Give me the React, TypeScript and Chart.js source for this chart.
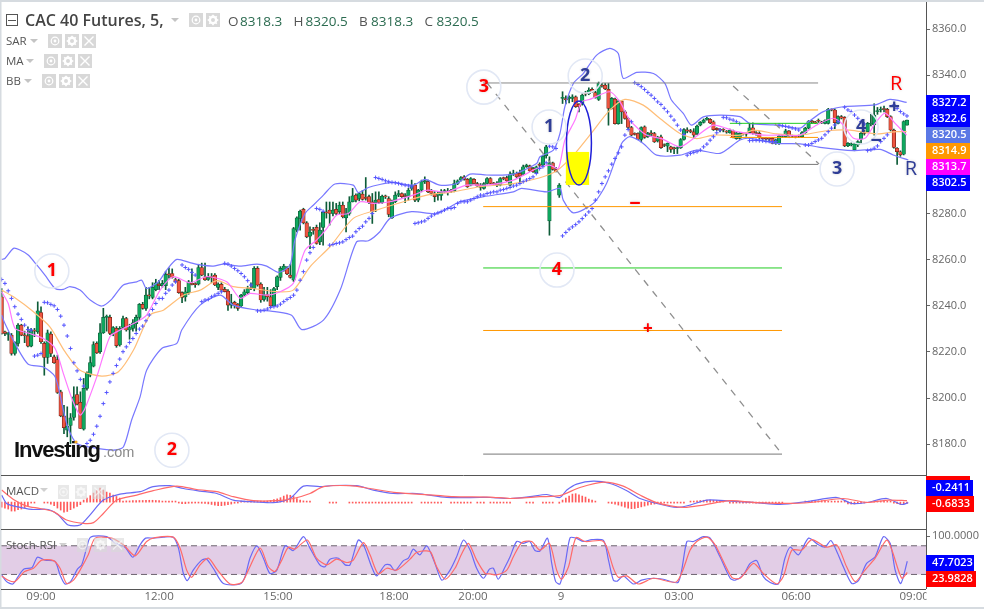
import React, { useEffect, useRef } from "react";
import { Chart, registerables } from "chart.js";

Chart.register(...registerables);

const opens = [
  8243.9,8228.7,8227.6,8227.3,8219.3,8223.7,8231.6,8227.3,8227,8222.5,
  8229.2,8228.7,8237.1,8223.7,8217.6,8227.7,8217.9,8216.7,8202.7,8192.2,
  8186.1,8188.1,8191.6,8201.5,8198.1,8186.5,8204.2,8209.9,8213.8,8223.7,
  8220.1,8228.3,8235,8235,8228,8230.2,8223,8230.6,8234.5,8229.5,
  8230.2,8232.3,8235,8240.6,8238.9,8244.6,8243.6,8247,8249.4,8248.7,
  8248.7,8253.6,8254,8251.4,8250.9,8245.7,8243.9,8245.7,8249.7,8249.4,
  8249.4,8256.6,8252.6,8251.4,8252.3,8253.3,8248,8249.3,8247.1,8246.4,
  8240.3,8241.5,8240.7,8239.9,8244.6,8245.7,8247.5,8247.5,8256.2,8249.4,
  8242.8,8244.9,8243.9,8240,8248.3,8252.3,8255.5,8256.2,8253.3,8251.1,
  8272.8,8277.9,8281.8,8276,8270.2,8272.8,8274,8267.7,8274,8280.5,
  8281.5,8280,8281.8,8280.8,8283.6,8278.1,8280,8285.1,8288,8286.5,
  8288.4,8286.8,8287.3,8285.1,8284.7,8286.1,8284.7,8287.3,8286.5,8278.1,
  8285.1,8288,8288.7,8287.5,8287.3,8290.9,8292.3,8285.8,8290.1,8293.8,
  8293.8,8290.1,8288.7,8288,8287.8,8289.4,8289.4,8289.9,8289.9,8293,
  8294.5,8295.9,8294.8,8292.3,8294.8,8293,8292.3,8290.9,8293,8295.2,
  8293,8293,8292.3,8295.2,8295.6,8292.3,8297.1,8297.4,8297.4,8297.1,
  8300.3,8300.7,8299.5,8297.7,8301,8301,8305.1,8276.8,8302,8299.1,
  8288,8329.9,8329.5,8329.9,8329.9,8330.6,8327.3,8327.7,8331.8,8332,
  8333.8,8332.4,8329.5,8335.4,8335.7,8333.8,8325.6,8329.6,8319,8328.7,
  8324.1,8321.2,8317.3,8314.4,8314.7,8312.1,8317.6,8313.3,8314.7,8314.7,
  8311.5,8313.3,8309.6,8309.2,8308.9,8308.2,8308.2,8308.6,8312.1,8315.9,
  8315.6,8315.4,8314.7,8318.3,8319.5,8320.8,8320.8,8319.8,8316.9,8316.2,
  8316.2,8315.4,8315,8315.9,8312.5,8312.6,8314.8,8314.5,8315.1,8317.2,
  8314.8,8314.8,8312.6,8312.3,8312.3,8312.6,8310.4,8310.4,8313.4,8313.3,
  8315.8,8313.6,8313.3,8313.6,8313.3,8315.1,8317,8319.9,8319.4,8320.1,
  8319.4,8319.1,8319.1,8324.9,8324.9,8319.1,8322,8321.7,8309.3,8309.7,
  8307.6,8309.7,8312.2,8314.8,8315.5,8318.8,8318.4,8324.2,8324.9,8325.2,
  8325.2,8322,8316.2,8308.3,8306.8,8305.7,8318.3,
];
const highs = [
  8247.5,8229,8228.5,8228,8224.4,8232.3,8232,8229,8230.9,8230.2,
  8230.2,8241.7,8239.6,8224.4,8229.5,8228.7,8218.6,8218.6,8203.4,8196.9,
  8196.2,8193.3,8204.9,8204.9,8202.7,8208.5,8211.4,8217.9,8224.4,8224.4,
  8232.3,8238.9,8236,8236,8231,8231,8231,8235.5,8235,8232,
  8234,8236,8241,8241.5,8248,8248,8250,8251.5,8251,8251,
  8255,8256.5,8256,8252,8251.5,8246,8248,8251,8256,8250,
  8258,8258.5,8258.5,8254,8254,8254,8250,8250,8248,8247,
  8245,8242,8241,8245,8247,8248.5,8250,8257,8257,8250,
  8248,8248,8247,8248,8253,8257,8258,8257,8258,8274,
  8278.6,8281.5,8282.3,8276.5,8274.2,8274,8275,8276,8280.7,8285,
  8285,8285,8284.4,8285,8285,8282.2,8287.3,8290.9,8288.5,8289,
  8290,8295.6,8288,8288.7,8289.4,8289.4,8288,8288,8287.3,8285.8,
  8289.4,8290,8289,8288.7,8290.9,8294.5,8293,8290.5,8294.5,8295.9,
  8294.5,8290.5,8289.5,8289.4,8290.4,8290.5,8290.9,8290.5,8294.5,8294.6,
  8296,8296.5,8295.2,8295.6,8295.2,8293.5,8293,8293.4,8295.6,8295.6,
  8293.5,8293.8,8295.6,8295.8,8296.2,8298.1,8298.8,8298,8298.8,8301,
  8301.4,8301,8300,8300.6,8302,8305.3,8309.6,8304.6,8302.3,8300,
  8293,8332.8,8331,8331,8331.5,8331,8327.7,8332,8333,8334.5,
  8334.5,8333,8337,8336.4,8336.4,8336.4,8330.3,8330,8329.2,8329,
  8324.6,8321.6,8317.8,8315,8315,8317.6,8318,8315.2,8316,8315.2,
  8313.5,8314,8310.2,8310.6,8309.2,8308.8,8309,8312.5,8316.8,8317.2,
  8316.5,8316.8,8318.3,8319.9,8321,8321.8,8321.2,8320.2,8317.2,8316.8,
  8316.8,8316,8316.6,8316.2,8315.4,8315.2,8315.2,8315,8319,8319.3,
  8315.5,8315.5,8313,8313,8312.8,8313,8312.3,8314,8314,8316.5,
  8316,8314,8313.8,8314,8315.5,8317.4,8320.3,8320.4,8320,8321,
  8320,8320.6,8325.6,8325.4,8325.4,8322.4,8322.5,8322,8310.8,8310.6,
  8310.6,8311.6,8315.2,8316,8319.5,8323,8327.6,8326,8326.2,8326.6,
  8325.6,8322.4,8316.6,8308.6,8307.2,8320.2,8320.5,
];
const lows = [
  8227.7,8227,8225,8218.6,8218.6,8222.5,8227,8224,8222.2,8222.2,
  8226.6,8228,8223.7,8209.9,8215,8217.9,8215,8202,8191.9,8184.6,
  8183.2,8180.3,8190.4,8197,8186.8,8186.1,8203.4,8209.2,8213.5,8219.3,
  8219.3,8228,8229,8227.5,8227,8222,8222.5,8230,8229,8225.5,
  8229,8229,8234,8238.5,8238,8243,8243,8246.5,8247,8248,
  8247,8252,8252,8250,8245.4,8241.4,8242,8245,8249,8248,
  8249,8253,8251,8251,8250,8248.7,8247,8246,8246,8238,
  8239,8239,8238,8239.5,8244,8245,8247,8246.5,8248.5,8241.5,
  8242,8242,8239.5,8240,8247,8251,8255,8253.5,8252,8250.5,
  8272,8272.8,8275.5,8269.5,8264.8,8271,8266.7,8266.5,8266.3,8278,
  8275,8279,8279.5,8280,8278.1,8272,8279.3,8285,8285,8285.5,
  8285.8,8285.8,8284.3,8275.7,8280.8,8284.4,8284.4,8286.5,8278.6,8277.9,
  8284.7,8287.3,8287,8284.7,8285.8,8290.1,8285.1,8285.1,8289.4,8293,
  8289,8288,8285.1,8285.8,8285.8,8289,8288,8289,8289.4,8292.5,
  8294,8294.5,8291.3,8292,8292.7,8291.7,8290.1,8290.6,8292.7,8292.7,
  8292.4,8291.6,8292,8294.6,8293.8,8292,8296.5,8295.6,8293.8,8296.7,
  8300,8298.2,8297.8,8297.4,8300,8300.7,8304,8270.6,8298.8,8298,
  8287,8327.7,8327.5,8328,8328.5,8326,8324.1,8327,8331,8331.5,
  8332.5,8330,8329,8334.8,8333.7,8318.3,8325.3,8318.7,8318.7,8319,
  8320.9,8316.8,8313.7,8314,8312,8311,8312.6,8313,8313.8,8310.8,
  8311,8308.2,8309,8306.8,8306.5,8306,8306,8308.2,8311.8,8315,
  8315,8312.5,8314.2,8318,8319.2,8320.5,8319,8316,8316,8315.4,
  8315.4,8314.8,8314.8,8312.8,8312.2,8312.2,8314,8313.5,8314.8,8314.4,
  8314,8312.5,8312,8311.8,8311.5,8310.2,8310,8310,8313,8313,
  8313.2,8313,8312.8,8313,8313,8314.8,8316.7,8319,8319,8319.5,
  8319,8318.8,8318.8,8324.5,8316.8,8318.8,8321,8309,8309,8309.3,
  8307.2,8309,8310.5,8314,8315,8318,8314,8323,8324,8324,
  8321.6,8315.8,8308.3,8301.3,8304.8,8305.4,8318.3,
];
const closes = [
  8228,8228,8227.9,8219.3,8224,8231.6,8227.3,8227,8222.5,8229.2,
  8229,8237.8,8224.4,8217.6,8228.3,8219.3,8215.3,8202.4,8192.3,8187.2,
  8187.8,8191.4,8200.5,8197.4,8186.8,8204.2,8210.7,8215.4,8223.2,8219.6,
  8228.3,8235,8235.2,8228,8230.6,8222.7,8230.2,8234.5,8229.5,8230.6,
  8232.6,8235,8240.6,8238.9,8244.6,8244.3,8248,8250,8248.7,8249.7,
  8253.6,8253.4,8252.3,8250.4,8245.7,8243.6,8246.1,8250.4,8249.3,8249.2,
  8256.6,8253.3,8251.2,8252.3,8252.2,8249,8249.4,8246.8,8246.1,8240.3,
  8241.3,8240,8238.9,8244.6,8246.1,8247.5,8247.4,8256.2,8249,8242.5,
  8244.6,8243.9,8240,8247.5,8252.6,8256.2,8257.2,8253.8,8252.3,8273.5,
  8278.1,8281,8276,8269.9,8271.9,8272.7,8267,8272.8,8280.5,8280.3,
  8280,8281.5,8280,8283.6,8278.6,8280,8285.1,8287.7,8285.8,8288.7,
  8286.1,8286.6,8284.7,8280.8,8285.8,8284.8,8287.5,8287.2,8279.6,8285.1,
  8288,8288.7,8287.3,8287.4,8290.1,8292.3,8285.8,8290.1,8293.8,8294,
  8289.4,8288.7,8287.3,8288.1,8289.4,8289.9,8289.3,8289.6,8293,8294.2,
  8295.6,8294.8,8291.6,8295.2,8293,8292,8291.3,8293,8295.2,8293,
  8292.9,8292.3,8295.2,8295.1,8294.2,8297.1,8297.2,8295.9,8296.2,8300.3,
  8301,8298.5,8298.1,8300.3,8300.9,8304.9,8308.9,8302,8299.1,8298.1,
  8292.3,8330,8329.4,8330.2,8330.6,8326.3,8326.4,8331.3,8331.7,8333.5,
  8332.8,8330.3,8336.4,8335.3,8334,8325.6,8329.9,8319,8328.7,8324.1,
  8321.2,8317.3,8314,8314.3,8312.2,8317.3,8313,8314.7,8314.6,8311.1,
  8313,8308.6,8309.5,8310.4,8307.8,8308.1,8308.6,8312.1,8316.4,8315.8,
  8315.5,8314,8317.9,8319.5,8320.5,8321.2,8319.3,8316.4,8316.4,8316.1,
  8316.1,8315.3,8316.2,8313,8315,8314.8,8314.5,8314.4,8317.2,8314.8,
  8314.7,8312.9,8312.5,8312.2,8312.2,8310.4,8311.9,8313.6,8313.5,8315.8,
  8313.6,8313.5,8313.2,8313.5,8315.1,8317,8319.9,8319.8,8319.3,8320,
  8319.3,8320.3,8325.2,8324.8,8319.4,8322,8321.3,8309.3,8310.4,8310.2,
  8310.2,8311.2,8314.8,8314.7,8319.1,8319.1,8322.7,8324.3,8325,8325.1,
  8322,8316.2,8308.7,8306.8,8305.4,8319.9,8320.5,
];

const bbUpper: [number, number][] = [
  [0,8260.1],[1,8260.5],[3.6,8264.9],[5.6,8264.2],[8.1,8262],[10.7,8257.7],[13.2,8253.3],[16.3,8247.5],[18.8,8247.1],[20.8,8248.3],
  [23.9,8246.8],[27,8242.5],[30.5,8239.9],[33.5,8242.8],[37.1,8249],[41.2,8250.4],[42.7,8251.1],[44.2,8247.5],[47.8,8250.4],[50.3,8255.5],
  [53.4,8260.1],[57.4,8258.7],[60.5,8257.7],[64.5,8257.2],[67.6,8258.1],[72.7,8257.2],[77.8,8258.1],[80.8,8257.2],[84.4,8254.5],[87.9,8257.7],
  [89.4,8268.5],[92.5,8280],[95,8283.6],[98.1,8288],[101.6,8292.8],[107.2,8292.3],[108.7,8289.1],[111.8,8291.3],[115.3,8292.6],[119.4,8293.5],
  [125.5,8292.3],[129.1,8294.8],[133.6,8292.3],[138.7,8293],[142.8,8297.1],[147.9,8296.7],[156,8297.1],[163.1,8301.7],[164.1,8304.6],[168.2,8307.5],
  [170.2,8314.7],[171.7,8326.3],[174.3,8336.4],[177.3,8340.7],[181.4,8348.7],[185.4,8351.6],[188,8349.4],[189.5,8338.6],[193.6,8341.2],[198.7,8340.7],
  [202.2,8336.4],[204.2,8329.2],[207.8,8323.4],[210.3,8318.3],[213.9,8321.9],[219,8322.7],[225.1,8322],[228.1,8319.1],[235.3,8318.4],[243.4,8317],
  [245.4,8319.1],[250.5,8324.2],[257.1,8326.4],[266.3,8327.1],[270.8,8329.5],[275.9,8328.2],
];
const bbLower: [number, number][] = [
  [0,8236],[1,8232.3],[4.6,8222.2],[8.1,8214.7],[12.7,8213.5],[16.3,8209.2],[18.8,8194.8],[20.3,8186.8],[22.9,8180.3],[27.4,8178.6],
  [34,8177.4],[37.1,8178.8],[39.6,8190.4],[42.2,8200.5],[44.2,8212.1],[48.8,8221.5],[53.4,8223.7],[54.9,8229.5],[60.5,8240.3],[66.6,8244.6],
  [70.6,8240.3],[76.7,8238.4],[83.9,8237.4],[88.4,8235.9],[91.5,8229.7],[98.1,8233.8],[103.2,8246.8],[108.2,8267.7],[111.8,8268.2],[115.3,8272.1],
  [118.4,8277.9],[125,8280.8],[132.6,8280],[139.7,8285.1],[146.9,8287.3],[156,8289.4],[158.5,8290.9],[166.2,8289.4],[170.2,8290.9],[171.2,8285.8],
  [174.3,8280.3],[180.4,8284.4],[184.4,8293],[189,8310.4],[191.5,8313.3],[195.6,8310.4],[199.7,8305.3],[206.8,8305.3],[211.9,8307.5],[219,8306.1],
  [225.1,8311.9],[228.1,8312.6],[236.3,8310.4],[243.4,8310.2],[249.5,8308.7],[259.7,8307.3],[267.8,8307.8],[271.8,8305.4],[276.4,8303.2],
];
const maFast: [number, number][] = [
  [0,8246.1],[2,8241],[4.1,8230.2],[8.6,8228],[12.7,8225.8],[16.3,8221.5],[18.8,8210.7],[21.4,8199.8],[23.9,8192.6],[25.4,8195.5],
  [29,8209.2],[33,8226.6],[36.1,8229.5],[40.2,8232.3],[44.2,8236],[48.3,8246.8],[52.3,8252.6],[57.4,8250],[62.5,8252.6],[68.6,8250.4],
  [72.7,8243.2],[75.7,8245.4],[80.8,8244.6],[84.9,8246.1],[88.9,8249.7],[92.5,8264.1],[96,8268.5],[99.1,8273.5],[102.1,8279.3],[105.7,8280],
  [109.3,8285.1],[113.3,8284.4],[118.4,8285.1],[125.5,8288],[129.6,8290.1],[135.7,8289.4],[141.8,8292.3],[147.9,8292.3],[156,8294.5],[163.1,8299.5],
  [167.1,8301],[169.7,8299.5],[171.7,8311.8],[174.8,8320.5],[176.8,8328.4],[179.3,8329.5],[185.4,8332.8],[188.5,8328.4],[191.5,8320.5],[196.6,8314],
  [201.2,8312.5],[206.8,8308.9],[210.9,8312.5],[216.9,8318.3],[221,8316.9],[224.1,8315.5],[232.2,8314],[237.3,8314],[243.4,8314],[248.5,8318.4],
  [253.6,8321.3],[256.6,8318.4],[259.7,8312.6],[263.2,8312.6],[266.3,8319.1],[269.3,8323.5],[272.4,8319.1],[275.9,8314],
];
const maSlow: [number, number][] = [
  [0,8246.8],[3.6,8243.9],[9.7,8237.4],[14.7,8230.9],[19.3,8220.1],[23.9,8212.1],[30.5,8209.5],[35.6,8211.4],[40.2,8220.8],[45.2,8236],
  [49.3,8238.1],[55.4,8244.6],[60.5,8246.8],[65.6,8250.9],[70.6,8248.3],[76.7,8247.5],[83.9,8246.1],[88.9,8246.8],[94,8256.9],[100.1,8265.6],
  [107.2,8277.9],[114.3,8281.5],[122.5,8285.1],[129.6,8288],[137.7,8289.4],[145.8,8291.6],[156,8293],[164.1,8295.5],[169.2,8298.5],[174.3,8305.3],
  [179.3,8314],[185.4,8324.8],[190,8329.5],[195.6,8327],[200.7,8321.2],[206.8,8314.7],[211.9,8312.5],[216.9,8314],[225.1,8314],[229.2,8316.2],
  [236.3,8314.5],[243.4,8314],[251.5,8315.9],[258.6,8316.2],[266.8,8314.5],[272.9,8315.5],[275.9,8315.5],
];

const sarRuns: [number, number[]][] = [
  [0,[8251.4,8249.7,8246.5,8243.2,8239.6,8236.4,8234.1,8231.6,8229.7,8229.5]],
  [10,[8218.2,8218.6,8219.3]],
  [13,[8241.5,8241.3,8240.6,8240,8238.4,8235.5,8231.6,8226.9,8221.5,8215.3,8211.8,8208.1,8205.2]],
  [26,[8180.3,8181.7,8184.3,8187.8,8192.1,8197.6,8202.4,8207,8210.7,8214.1,8216.9,8220.1,8222.2,8224.1,8225.8,8228,8229.9,8231.2,8233.5,8236,8238.4,8241,8243.2,8243.2,8245.4,8246.8,8249,8250.4]],
  [55,[8257.7,8256.6,8255.8,8254.5,8253.3]],
  [61,[8241.8,8242.5,8242.8,8243.9,8244.6,8245.4,8246.1]],
  [68,[8258.4,8258.1,8257.2,8256.2,8255.2,8254,8252.6,8250.9,8249]],
  [78,[8237.8,8237.8,8238.1,8238.6,8239.3,8239.6,8239.9,8240.7,8241.8,8242.8,8243.6,8244.6,8246.8,8251.1,8254.8,8259.8,8263,8265.3]],
  [96,[8282.2,8281.8,8281]],
  [100,[8266.3,8266.6,8267,8267.3,8267.7,8268.7,8269.6,8270.2,8272.1,8273.5,8274.5,8276.4,8277.9,8280]],
  [114,[8295.6,8295.2,8294.8,8294.2,8293.8,8293.5,8293.3,8293,8292.6,8292.3,8292,8291.6]],
  [126,[8275.7,8276,8276.4,8276.8,8277.9,8278.9,8279.7,8280.3,8280.8,8281.5,8282.2,8282.2,8282.6,8284.4,8285.1,8285.1,8285.1,8285.8,8286.5,8287.3,8288,8288,8288.7,8289,8289.4,8289.4,8290.1,8290.4,8290.9,8291.3,8291.9,8292.3,8293,8293.8,8294.5,8295.2,8295.9,8297.4,8299.5,8300.3,8302]],
  [167,[8309.2,8308.9,8308.2]],
  [171,[8270.3,8271.8,8273.2,8274.2,8275.2,8276.4,8277.8,8279.3,8280.7,8282.2,8285.8,8289.4,8293,8295.9,8298.5,8301.4,8303.9,8306.3,8308.9,8314,8316.4,8319.8]],
  [193,[8336.7,8336,8335,8333.8,8332.5,8331.3,8329.9,8328.4,8327.3,8325.6,8324.1,8322.2,8320.5,8318.3,8316.2,8314.3]],
  [209,[8305.3,8306,8306.5,8306.8,8307.5,8308.9,8310.1,8311.8,8313.3,8315,8316.2]],
  [220,[8321.7,8321.5,8320.9,8320.5,8319.8,8319]],
  [228,[8311.6,8311.7,8311.7,8311.6,8311.5,8311.3,8311.3,8311.2,8311.2]],
  [237,[8318.4,8318.1,8317.8,8317.5,8317.1,8316.7,8316.2]],
  [245,[8309.7,8309.7,8310.4,8311.2,8311.9,8312.6,8314.1,8315.5,8317,8318.4,8319.8]],
  [257,[8326.1,8324.9,8324.2,8322.7,8321.3,8319.8,8318.8]],
  [264,[8307.3,8307.6,8308.3,8309.3,8311.2,8312.6,8314.1]],
  [272,[8327.1,8325.6,8324.2,8323.2,8322.3]],
];

const macdLine: [number, number][] = [
  [0,3.5],[1.5,-0.7],[4.6,-2.3],[9.2,-3.7],[14.2,-3.7],[17.3,-6.5],[20.3,-11.5],[23.9,-11.5],[26.9,-6.5],[31,1],
  [36.1,4],[42.2,5.2],[46.2,7.7],[51.3,8.2],[55.4,6.8],[60.5,5.5],[65.6,4.3],[70.6,1],[75.7,0.2],[82.8,-0.3],
  [87.9,1.8],[92,8],[97,7.7],[101.1,8.3],[108.2,8.2],[113.3,6],[119.4,4.3],[126.5,4.3],[135.7,2.3],[145.8,2.3],
  [148.9,2.3],[155,1.8],[161.1,2.7],[166.2,3.8],[170.2,2.3],[172.3,6],[175.3,9],[180.4,10.5],[185.5,9.3],[190.6,5.7],
  [194.6,1.8],[199.7,-0.7],[205.8,-2.7],[209.9,-1.5],[215,1],[222.1,0.5],[230.2,-0.3],[237.3,-1.2],[245.4,0.2],[254.6,2.3],
  [259.2,-0.7],[263.8,-0.2],[269.8,1.8],[274.4,-1.2],[276.4,-0.3],
];
const macdSignal: [number, number][] = [
  [0,6],[3.6,1.3],[7.6,-2],[11.7,-3.2],[15.8,-4.8],[19.8,-9],[24.9,-10.7],[28,-10.3],[31,-5.7],[35.1,1],
  [41.2,3.5],[46.2,5.7],[53.4,8],[59.5,6.3],[65.6,5.2],[70.6,2.7],[76.7,0.7],[83.9,0.7],[88.9,1.8],[94,4.3],
  [98.1,7.7],[106.2,8.2],[112.3,6.8],[120.4,4.7],[131.6,3.5],[137.7,2.7],[148.9,2.5],[155,1.8],[164.1,2.7],[170.2,3.2],
  [176.3,7.3],[183.5,10],[189.5,8],[194.6,3.5],[199.7,-0.3],[207.8,-2.7],[213.9,-1.5],[222.1,0.7],[230.2,-0.3],[238.3,-0.7],
  [246.5,-0.2],[256.6,1.8],[263.8,-0.2],[270.3,1],[276,0.7],
];
const macdHist: (number | null)[] = [
  -2.5,-3,-3.5,-4.5,-4.5,-3.8,-3.5,-3,-1.8,-0.5,
  -0.5,null,null,-0.1,-0.1,-1,-1.8,-3,-4,-5,
  -4.7,-3.8,-3,-2.2,-1.3,1,2,3.2,4.5,5.8,
  7,6,5,4.5,3.5,2.8,2,0.5,0.6,0.6,
  0.7,0.7,0.8,0.8,0.9,0.9,0.9,0.8,0.7,0.5,
  0.4,0.3,0.2,0.2,-0.4,-0.8,-0.8,-0.6,-0.5,-0.5,
  -0.4,-0.6,-0.7,-0.9,-1.2,-1.5,-1.8,-1.8,-1.6,-1.3,
  -1,-0.6,-0.3,0.2,0.3,0.3,0.2,0.2,0.1,0.2,
  0.3,0.5,0.8,1.2,1.6,2.2,3,3.6,3.4,2.8,
  1.8,1,0.6,0.4,0.2,null,null,null,null,null,
  -0.1,-0.1,-0.1,null,null,null,-0.2,-0.2,-0.3,-0.3,
  -0.3,-0.3,-0.4,-0.4,-0.5,-0.5,-0.5,-0.6,-0.5,-0.5,
  -0.5,-0.4,-0.4,-0.3,-0.3,-0.3,null,null,-0.3,-0.3,
  -0.4,-0.4,-0.4,-0.3,-0.3,null,null,-0.2,-0.2,-0.2,
  -0.3,-0.3,-0.3,-0.2,null,-0.2,-0.2,-0.2,null,-0.2,
  -0.2,-0.2,-0.3,-0.2,-0.2,-0.2,null,null,null,null,
  -0.2,-0.2,-0.2,null,null,-0.2,-0.2,-0.2,-0.2,null,
  -0.6,1,2,3,4,4.2,3.6,3,2.5,1.5,
  1,0.5,null,null,null,-0.5,-0.7,-1,-1.5,-2,
  -2.6,-3,-3.3,-3.2,-2.8,-2.4,-2,-1.5,-1.2,-1,
  -0.8,-0.6,-0.5,-0.5,-0.4,-0.3,-0.3,-0.2,-0.2,null,
  0.4,0.5,0.6,0.8,0.9,1,1,0.9,0.7,0.5,
  0.4,null,-0.2,-0.2,-0.2,-0.2,-0.2,-0.2,-0.2,-0.2,
  -0.2,-0.2,-0.2,-0.2,-0.2,-0.2,-0.2,-0.2,-0.2,null,
  null,null,null,null,null,0.3,0.4,0.5,0.6,0.6,
  0.7,0.6,0.5,0.4,0.3,0.2,0.1,0.1,-0.9,-1,
  -1,-0.8,-0.5,-0.3,null,null,0.3,0.4,0.5,0.6,
  0.5,0.3,-0.4,-0.8,-1.2,-0.9,-0.7,
];

const stochK: [number, number][] = [
  [0,19],[1.5,5],[3.4,0],[5,15.5],[6.8,31.5],[9.2,34],[10.9,56],[13.2,50],[16.3,47],[17.8,19],
  [19.3,0],[21,5],[23.1,31],[24.4,40],[25.9,75],[27.1,98],[32,99],[35,84],[37.6,77],[40,56],
  [42.2,82],[43.9,96],[46.2,96],[49.3,98],[52.3,98],[53.9,75],[55.4,22],[56.6,7],[58.4,29],[61,50],
  [62.5,52],[64.5,33],[67.6,1],[72.7,0],[74.2,15.5],[75.7,54],[77.8,80],[79.8,54],[81.8,22],[83.9,29],
  [86.4,80],[88.9,70],[92,99],[94,75],[97,40],[98.6,36],[100.1,52],[102.7,54],[104.7,40],[106.2,40],
  [108.7,92],[110.3,82],[112.8,36],[114.3,17],[116.9,40],[118.4,40],[119.9,28],[122.5,49],[124,54],[125.5,73],
  [127.5,61],[129.6,80],[132.1,43],[134.2,8],[136.7,29],[138.7,57],[140.8,92],[142.8,71],[144.8,33],[146.9,12],
  [148.7,31],[149.9,33],[151.4,10],[153.5,36],[155,57],[157,89],[159,85],[161,89],[162.6,70],[164.1,69],
  [166.4,96],[167.7,43],[168.9,5],[170.2,0],[171.8,43],[173.3,97],[175.1,96],[177.4,89],[179.9,93],[183.5,91],
  [185,50],[186.5,8],[187.7,6],[189.5,17],[192.6,0],[195.1,8],[198.7,12],[201.7,10],[206.3,4],[208.9,89],
  [210.9,89],[213.9,99],[216,96],[219,57],[222.1,12],[223.6,8],[226.1,19],[228.2,43],[230.2,49],[232.2,15.5],
  [234.3,3],[236.8,0],[238.8,54],[240.4,77],[242.9,61],[246,96],[249,82],[251,77],[252.8,91],[254.6,68],
  [256.6,36],[259.2,1],[261.2,7],[263.7,43],[266.3,57],[268.8,99],[270.9,85],[272.4,29],[274.1,1],[276.1,47.7],
];
const stochD: [number, number][] = [
  [0,17],[2,8],[4,5],[7,26],[9.7,33],[12.2,50],[15.8,49],[17.8,33],[19.8,1],[21.9,8],
  [23.9,29],[26.4,61],[28.5,96],[33.5,96],[37.1,82],[40.7,59],[44.2,89],[46.8,97],[52.3,98],[54.4,75],
  [56.4,29],[57.9,14],[60.5,40],[63,54],[65.6,31],[69.6,0],[73.2,3],[75.2,29],[78.8,75],[81.3,36],
  [83.3,26],[85.4,50],[87.4,77],[89.4,73],[93.2,92],[96,54],[99.1,40],[102.1,52],[105.2,45],[107.2,50],
  [110.3,86.5],[112.3,61],[114.8,21],[117.4,33],[120.4,29],[124.5,52],[126.5,66],[130.6,68],[132.6,36],[135.2,10],
  [138.2,33],[140.3,64],[142.3,85],[144.8,50],[147.4,22],[148.9,21],[150.9,19],[154,29],[156,57],[158.6,87],
  [161.6,89],[164.1,71],[167,85],[169.2,29],[170.7,10],[172.8,36],[175.1,97],[177.9,89],[183.5,89],[186.5,33],
  [188,14],[190.6,17],[194.1,0],[198.7,12],[205.8,5],[209.9,71],[211.9,89],[215,98],[217.5,82],[222.6,14],
  [225.1,12],[229.2,43],[232.2,22],[236.3,0],[238.3,15.5],[240.9,71],[243.9,71],[247,93],[251.5,77],[254.6,82],
  [257.6,36],[260.2,5],[263.2,29],[266.3,54],[269.8,92],[271.4,71],[274.4,12],[276.1,24],
];

// Hand-drawn levels: [from index, from price, to index, to price, colour]
const levelLines: [number, number, number, number, string][] = [
  [146.8,8336.6,248.9,8336.6,"#888888"],
  [146.8,8283,237.9,8283,"#ff9800"],
  [146.8,8256.4,237.9,8256.4,"#22cc22"],
  [146.8,8229.3,237.9,8229.3,"#ff9800"],
  [146.8,8175.7,237.9,8175.7,"#777777"],
  [222,8324.9,248.9,8324.9,"#ff9800"],
  [222,8319.1,248.9,8319.1,"#22cc22"],
  [222,8313,248.9,8313,"#ff9800"],
  [222,8301.3,248.9,8301.3,"#777777"],
];
const dashedLines: [number, number, number, number][] = [
  [148,8336.6,237.9,8175.7],
  [223,8335.3,249.2,8301.5],
];
const RED = "#ff0000";
const NAVY = "#2f3d96";
const circleMarks: [string, number, number, string][] = [
  ["1",15.3,8255.1,RED],["2",51.9,8177.4,RED],["3",147,8334.8,RED],["4",169.3,8255.5,RED],
  ["1",166.9,8317.5,NAVY],["2",177.9,8339.6,NAVY],["3",254.7,8299.3,NAVY],["4",262,8317.5,NAVY],
];
const plainMarks: [string, number, number, string, number][] = [
  ["R",272.7,8336.1,RED,20],["R",277.2,8299.3,NAVY,20],
  ["+",272.1,8326.2,NAVY,20],["−",266.6,8311.4,NAVY,20],
  ["−",193.1,8284.1,RED,20],["+",197,8229.9,RED,17],
];
const priceTicks = [8180,8200,8220,8240,8260,8280,8300,8320,8340,8360];
const timeTickIdx = [12,48,84.25,119.6,143.7,170.5,206.5,242.2,278.2];
const timeTickText = ["09:00","12:00","15:00","18:00","20:00","9","03:00","06:00","09:00"];
const priceTags: [string, string][] = [
  ["8327.2","#0000ff"],["8322.6","#0000ff"],["8320.5","#5b78e5"],
  ["8314.9","#ff9800"],["8313.7","#ff00ff"],["8302.5","#0000ff"],
];
const headerValues = ["8318.3","8320.5","8318.3","8320.5"];
const headerLetters = ["O","H","B","C"];

const FONT = '"Open Sans", "Noto Sans", sans-serif';
const pts = (a: [number, number][]) => a.map(([x, y]) => ({ x, y }));
const lineDs = (data: any[], color: string, yAxisID: string, extra: any = {}) => ({
  type: "line" as const, data, yAxisID, borderColor: color, borderWidth: 1.2,
  pointRadius: 0, tension: 0.25, fill: false, order: 5, ...extra,
});

function iconBox(c: CanvasRenderingContext2D, x: number, y: number, w: number, kind: string, a = 1) {
  c.save();
  c.globalAlpha = a;
  c.fillStyle = "#d8d8d8";
  c.fillRect(x, y, w, 14);
  c.strokeStyle = "#fff";
  c.fillStyle = "#fff";
  const cx = x + w / 2, cy = y + 7;
  if (kind === "eye") {
    c.lineWidth = 1.2;
    c.beginPath(); c.arc(cx, cy, 3.8, 0, Math.PI * 2); c.stroke();
    c.beginPath(); c.arc(cx, cy, 1.4, 0, Math.PI * 2); c.fill();
  } else if (kind === "gear") {
    c.lineWidth = 2.4;
    c.beginPath(); c.arc(cx, cy, 3.2, 0, Math.PI * 2); c.stroke();
    c.lineWidth = 1.6;
    for (let k = 0; k < 8; k++) {
      const t = (k * Math.PI) / 4;
      c.beginPath();
      c.moveTo(cx + Math.cos(t) * 3.5, cy + Math.sin(t) * 3.5);
      c.lineTo(cx + Math.cos(t) * 5.3, cy + Math.sin(t) * 5.3);
      c.stroke();
    }
  } else {
    c.lineWidth = 1.4;
    c.beginPath();
    c.moveTo(cx - 4.5, cy - 4.5); c.lineTo(cx + 4.5, cy + 4.5);
    c.moveTo(cx + 4.5, cy - 4.5); c.lineTo(cx - 4.5, cy + 4.5);
    c.stroke();
  }
  c.restore();
}
function caret(c: CanvasRenderingContext2D, x: number, y: number, a = 1) {
  c.save();
  c.globalAlpha = a;
  c.fillStyle = "#c4c4c4";
  c.beginPath(); c.moveTo(x - 4, y - 2); c.lineTo(x + 4, y - 2); c.lineTo(x, y + 2); c.closePath(); c.fill();
  c.restore();
}

const overlayPlugin = {
  id: "overlay",
  afterDatasetsDraw(chart: any) {
    const c: CanvasRenderingContext2D = chart.ctx;
    const sx = chart.scales.x, sy = chart.scales.y;
    c.save();
    const xa = sx.getPixelForValue(172), xb = sx.getPixelForValue(179.1);
    const ya = sy.getPixelForValue(8306.7), yb = sy.getPixelForValue(8292.4);
    c.fillStyle = "#ffff00";
    c.fillRect(xa, ya, xb - xa, yb - ya);
    c.strokeStyle = "#2020d8";
    c.lineWidth = 1.5;
    c.beginPath();
    c.ellipse(sx.getPixelForValue(176), sy.getPixelForValue(8310.6),
      sx.getPixelForValue(179.8) - sx.getPixelForValue(176),
      sy.getPixelForValue(8292.4) - sy.getPixelForValue(8310.6), 0, 0, Math.PI * 2);
    c.stroke();
    c.textAlign = "center";
    c.textBaseline = "middle";
    for (const [t, ix, p, col] of circleMarks) {
      const x = sx.getPixelForValue(ix), y = sy.getPixelForValue(p);
      c.strokeStyle = "#e2e8f5";
      c.lineWidth = 1.6;
      c.beginPath(); c.arc(x, y, 17, 0, Math.PI * 2); c.stroke();
      c.fillStyle = col;
      c.font = `bold 18px ${FONT}`;
      c.shadowColor = "rgba(0,0,0,0.18)"; c.shadowBlur = 3;
      c.fillText(t, x, y);
      c.shadowBlur = 0;
    }
    for (const [t, ix, p, col, size] of plainMarks) {
      c.fillStyle = col;
      c.font = `${t === "R" ? "" : "bold "}${size}px ${FONT}`;
      c.shadowColor = "rgba(0,0,0,0.18)"; c.shadowBlur = 3;
      c.fillText(t, sx.getPixelForValue(ix), sy.getPixelForValue(p));
      c.shadowBlur = 0;
    }
    c.restore();
  },
  afterDraw(chart: any) {
    const c: CanvasRenderingContext2D = chart.ctx;
    c.save();
    c.fillStyle = "#d6dbe0";
    c.fillRect(0, 0, 984, 2);
    c.fillRect(0, 0, 1.5, 607);
    c.fillRect(0, 607, 984, 2);
    c.strokeStyle = "#555";
    c.lineWidth = 1;
    for (const y of [475.5, 529.5, 589.5]) {
      c.beginPath(); c.moveTo(1, y); c.lineTo(926, y); c.stroke();
    }
    c.fillStyle = "#fff";
    c.fillRect(926.5, 590, 14, 16);
    c.textAlign = "left";
    c.textBaseline = "middle";
    c.font = `600 11px ${FONT}`;
    priceTags.forEach(([t, col], k) => {
      const top = 95 + k * 16;
      c.fillStyle = col;
      c.fillRect(926, top, 44, 16);
      c.fillStyle = "#fff";
      c.fillText(t, 932, top + 8);
    });
    c.fillStyle = "#ff0000";
    c.fillRect(926, 476, 44, 4);
    c.fillStyle = "#0000ff"; c.fillRect(926, 480, 47, 16);
    c.fillStyle = "#ff0000"; c.fillRect(926, 496, 48, 16);
    c.fillStyle = "#0000ff"; c.fillRect(926, 555, 48, 16);
    c.fillStyle = "#ff0000"; c.fillRect(926, 571, 50, 16);
    c.fillStyle = "#fff";
    c.fillText("-0.2411", 932, 488);
    c.fillText("-0.6833", 932, 504);
    c.fillText("47.7023", 932, 563);
    c.fillText("23.9828", 932, 579);
    c.strokeStyle = "#555"; c.lineWidth = 1;
    c.strokeRect(6.5, 14.5, 11, 11);
    c.beginPath(); c.moveTo(8, 20.5); c.lineTo(16, 20.5); c.stroke();
    c.textBaseline = "alphabetic";
    c.fillStyle = "#444";
    c.font = `600 16px ${FONT}`;
    c.fillText("CAC 40 Futures, 5,", 25, 26);
    caret(c, 175, 20);
    iconBox(c, 189, 13, 14, "eye");
    iconBox(c, 206, 13, 14, "gear");
    headerValues.forEach((v, k) => {
      const x = 228 + k * 65.5;
      c.font = `13.5px ${FONT}`;
      c.fillStyle = "#555";
      c.fillText(headerLetters[k], x, 26);
      c.fillStyle = "#2b6b50";
      c.fillText(v, x + 12, 26);
    });
    const legendRows: [string, number, number, number][] = [["SAR", 46, 34, 48], ["MA", 66, 30, 44], ["BB", 86, 28, 42]];
    for (const [t, base, car, bx] of legendRows) {
      c.font = `11.5px ${FONT}`;
      c.fillStyle = "#555";
      c.fillText(t, 6, base - 1);
      caret(c, car, base - 5);
      iconBox(c, bx, base - 12, 14, "eye");
      iconBox(c, bx + 17, base - 12, 14, "gear");
      iconBox(c, bx + 34, base - 12, 14, "x");
    }
    c.fillStyle = "#111";
    c.font = 'bold 22px "Liberation Sans", sans-serif';
    (c as any).letterSpacing = "-1.2px";
    c.fillText("Investing", 14, 457);
    (c as any).letterSpacing = "0px";
    c.fillStyle = "#8a8a8a";
    c.font = '14.5px "Liberation Sans", sans-serif';
    c.fillText(".com", 103, 457);
    c.fillStyle = "#f5a623";
    c.beginPath(); c.arc(76, 442, 1.6, 0, Math.PI * 2); c.fill();
    c.font = `11.5px ${FONT}`;
    c.fillStyle = "#555";
    c.fillText("MACD", 6, 495);
    caret(c, 44, 490, 0.8);
    iconBox(c, 58, 485, 11, "eye", 0.6);
    iconBox(c, 75, 485, 12, "gear", 0.6);
    iconBox(c, 92, 485, 14, "x", 0.6);
    c.fillStyle = "#555";
    c.fillText("Stoch-RSI", 6, 549);
    caret(c, 63, 545, 0.8);
    iconBox(c, 77, 538, 11, "eye", 0.6);
    iconBox(c, 94, 538, 13, "gear", 0.6);
    iconBox(c, 111, 538, 13, "x", 0.6);
    c.restore();
  },
};

const candleIdx = opens.map((_, i) => i);
const isUp = (i: number) => closes[i] >= opens[i];

export default function App() {
  const ref = useRef<HTMLCanvasElement | null>(null);
  useEffect(() => {
    if (!ref.current) return;
    const sarData: { x: number; y: number | null }[] = [];
    sarRuns.forEach(([start, vals]) => {
      vals.forEach((v, k) => sarData.push({ x: start + k, y: v }));
      sarData.push({ x: start + vals.length - 0.5, y: null });
    });
    const noPad = (axis: any) => {
      axis.paddingTop = 0; axis.paddingBottom = 0; axis.paddingLeft = 0; axis.paddingRight = 0;
    };
    const sideWidth = (axis: any) => { axis.width = 58; noPad(axis); };
    const chart = new Chart(ref.current, {
      type: "bar",
      data: {
        datasets: [
          ...levelLines.map(([a, pa, b, pb, col]) =>
            lineDs([{ x: a, y: pa }, { x: b, y: pb }], col, "y", { tension: 0, borderWidth: 1, order: 2 })),
          ...dashedLines.map(([a, pa, b, pb]) =>
            lineDs([{ x: a, y: pa }, { x: b, y: pb }], "#8f8f8f", "y", { tension: 0, borderWidth: 1.3, borderDash: [7, 7], order: 2 })),
          {
            type: "line" as const, data: sarData, yAxisID: "y", showLine: false, spanGaps: false,
            pointStyle: "cross", pointRadius: 2, pointBorderColor: "#5555ff", pointBorderWidth: 1, order: 3,
          },
          lineDs(pts(maFast), "#ff78ff", "y", { order: 4 }),
          lineDs(pts(maSlow), "#ffbe78", "y", { order: 4 }),
          lineDs(pts(bbUpper), "#7878ff", "y"),
          lineDs(pts(bbLower), "#7878ff", "y"),
          {
            type: "bar" as const, yAxisID: "y", order: 8, grouped: false, barThickness: 3.6, minBarLength: 1,
            data: candleIdx.map((i) => ({ x: i, y: [opens[i], closes[i]] })),
            backgroundColor: candleIdx.map((i) => (isUp(i) ? "#0fa85f" : "#ee5541")),
            borderColor: candleIdx.map((i) => (isUp(i) ? "#0c5f38" : "#7a2016")),
            borderWidth: 0.7, borderSkipped: false,
          },
          {
            type: "bar" as const, yAxisID: "y", order: 9, grouped: false, barThickness: 1,
            data: candleIdx.map((i) => ({ x: i, y: [lows[i], highs[i]] })),
            backgroundColor: "#0d5c38", borderWidth: 0,
          },
          lineDs(pts(macdLine), "#6a6af5", "macd", { order: 3 }),
          lineDs(pts(macdSignal), "#ff6a6a", "macd", { order: 2 }),
          {
            type: "bar" as const, yAxisID: "macd", order: 6, grouped: false, barThickness: 1, minBarLength: 1,
            data: macdHist.map((v, i) => ({ x: i, y: v })),
            backgroundColor: "#ff5a5a", borderWidth: 0,
          },
          lineDs([{ x: -0.2, y: 80 }, { x: 281.8, y: 80 }], "#6e6470", "rsi", {
            tension: 0, borderDash: [6, 4], borderWidth: 1,
            fill: { value: 20 }, backgroundColor: "#e2cde6", order: 9,
          }),
          lineDs([{ x: -0.2, y: 20 }, { x: 281.8, y: 20 }], "#6e6470", "rsi", {
            tension: 0, borderDash: [6, 4], borderWidth: 1, order: 8,
          }),
          lineDs(pts(stochK), "#6a6af5", "rsi", { order: 3 }),
          lineDs(pts(stochD), "#ff6a6a", "rsi", { order: 2 }),
        ] as any,
      },
      options: {
        responsive: false,
        animation: false,
        devicePixelRatio: 1,
        layout: { autoPadding: false, padding: { left: 1, top: 1, right: 0, bottom: 0 } },
        plugins: { legend: { display: false }, tooltip: { enabled: false } },
        scales: {
          x: {
            type: "linear", min: -0.2, max: 281.8, position: "bottom", offset: false,
            afterBuildTicks: (axis: any) => { axis.ticks = timeTickIdx.map((value) => ({ value })); },
            afterFit: (axis: any) => { axis.height = 20; noPad(axis); },
            ticks: {
              autoSkip: false, maxRotation: 0, padding: 1, color: "#666",
              font: { family: FONT, size: 11.5 },
              callback: (v: any) => timeTickText[timeTickIdx.indexOf(Number(v))] ?? "",
            },
            grid: { display: false, drawTicks: false },
            border: { display: false },
          },
          y: {
            type: "linear", position: "right", stack: "panes", stackWeight: 474.5,
            min: 8166.6, max: 8372.14,
            afterBuildTicks: (axis: any) => { axis.ticks = priceTicks.map((value) => ({ value })); },
            afterFit: sideWidth,
            ticks: {
              color: "#666", padding: 2, font: { family: FONT, size: 11 },
              callback: (v: any) => Number(v).toFixed(1),
            },
            grid: { drawOnChartArea: false, tickLength: 4, tickColor: "#666" },
            border: { color: "#555" },
          },
          macd: {
            type: "linear", position: "right", stack: "panes", stackWeight: 54,
            min: -13.5, max: 13.5,
            afterBuildTicks: (axis: any) => { axis.ticks = []; }, afterFit: sideWidth,
            grid: { drawOnChartArea: false },
            border: { color: "#555" },
          },
          rsi: {
            type: "linear", position: "right", stack: "panes", stackWeight: 60,
            min: -10.46, max: 115,
            afterBuildTicks: (axis: any) => { axis.ticks = [{ value: 100 }]; },
            afterFit: sideWidth,
            ticks: {
              color: "#666", padding: 2, font: { family: FONT, size: 11 },
              callback: (v: any) => Number(v).toFixed(4),
            },
            grid: { drawOnChartArea: false, tickLength: 4, tickColor: "#666" },
            border: { color: "#555" },
          },
        },
      } as any,
      plugins: [overlayPlugin],
    });
    return () => chart.destroy();
  }, []);
  return (
    <div style={{ position: "fixed", left: 0, top: 0, width: 984, height: 609, background: "#fff" }}>
      <canvas ref={ref} width={984} height={609} style={{ display: "block" }} />
    </div>
  );
}
